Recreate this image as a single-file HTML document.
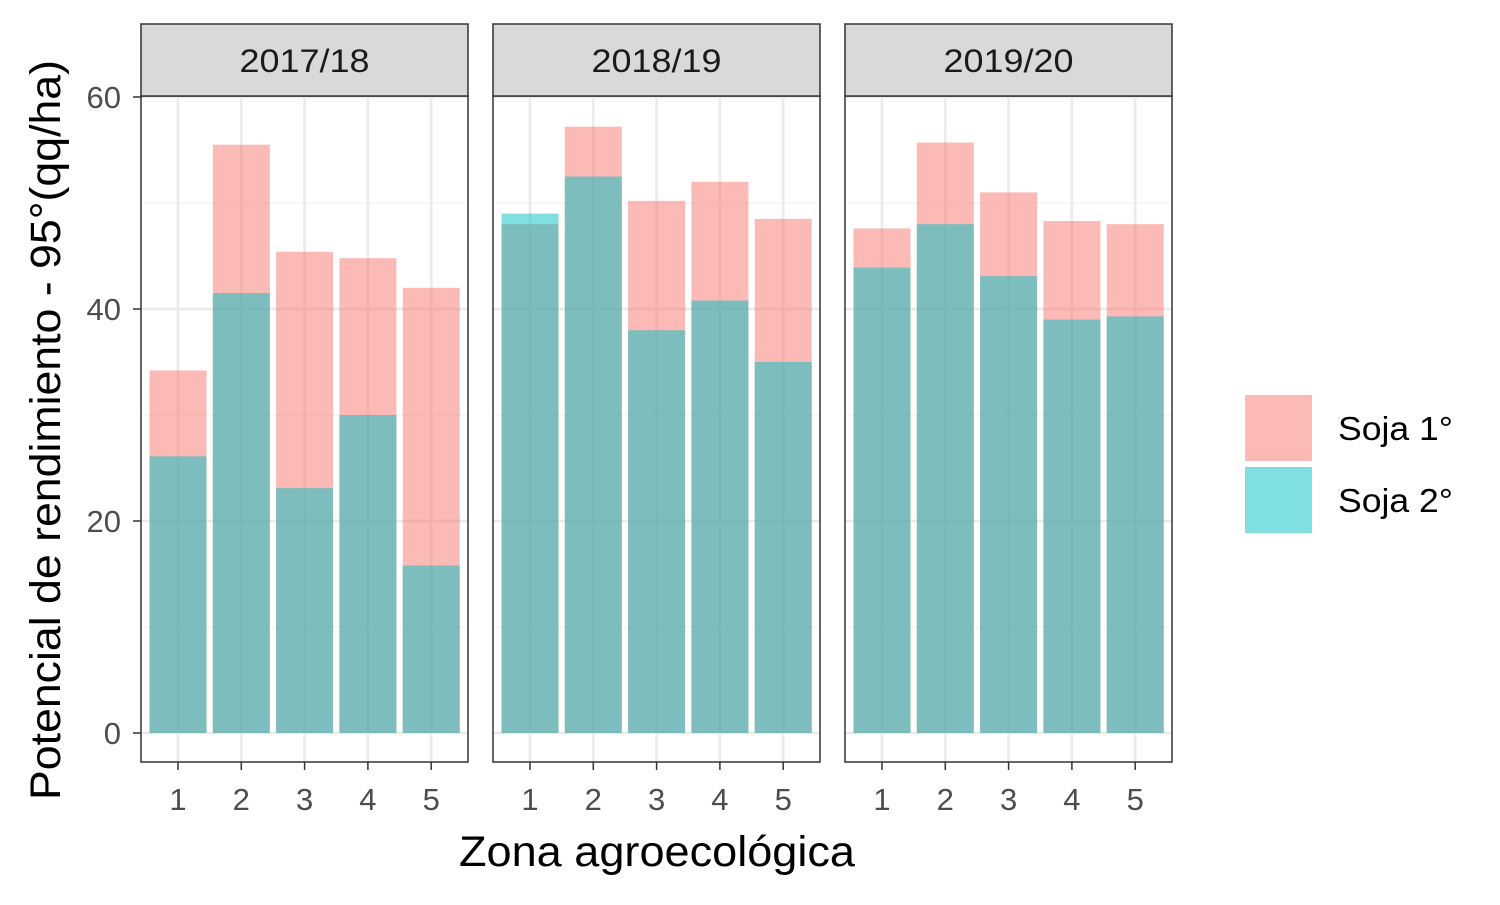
<!DOCTYPE html>
<html><head><meta charset="utf-8"><style>body{margin:0;background:#fff}svg{font-family:"Liberation Sans",Arial,sans-serif}</style></head>
<body>
<svg id="c" width="1500" height="900" xmlns="http://www.w3.org/2000/svg"></svg>
<script>
const panels = ["2017/18","2018/19","2019/20"];
const zones = [1,2,3,4,5];
const soja1 = [[34.2,55.5,45.4,44.8,42.0],[48.0,57.2,50.2,52.0,48.5],[47.6,55.7,51.0,48.3,48.0]];
const soja2 = [[26.1,41.5,23.1,30.0,15.8],[49.0,52.5,38.0,40.8,35.0],[43.9,48.0,43.1,39.0,39.3]];
const yTicks = [0,20,40,60];
const yMinor = [10,30,50];
const seriesNames = ["Soja 1°","Soja 2°"];

const svg = document.getElementById('c');
const NS = "http://www.w3.org/2000/svg";
function mk(t, a, txt){const e=document.createElementNS(NS,t);for(const k in a)e.setAttribute(k,a[k]);if(txt!==undefined)e.textContent=txt;svg.appendChild(e);return e;}
const panelX=[141,493,845], pw=327, plotTop=96, plotBot=762;
const y = v => 733 - v*(733-97)/60;
const x = (p,i) => panelX[p] + 37 + i*63.3;
const bw = 57;
panels.forEach((name,p)=>{
  const x0=panelX[p];
  let r=mk('rect',{x:x0,y:plotTop,width:pw,height:plotBot-plotTop,fill:'#fff'});
  
  yMinor.forEach(v=>{let l=mk('line',{x1:x0,x2:x0+pw,y1:y(v),y2:y(v),stroke:'#f2f2f2','stroke-width':1.3});
    });
  yTicks.forEach(v=>{let l=mk('line',{x1:x0,x2:x0+pw,y1:y(v),y2:y(v),stroke:'#ebebeb','stroke-width':2.7});
    });
  zones.forEach((z,i)=>{let l=mk('line',{x1:x(p,i),x2:x(p,i),y1:plotTop,y2:plotBot,stroke:'#ebebeb','stroke-width':2.7});
    });
  zones.forEach((z,i)=>{
    let b=mk('rect',{x:x(p,i)-bw/2,y:y(soja1[p][i]),width:bw,height:y(0)-y(soja1[p][i]),fill:'#F8766D','fill-opacity':0.5});
    
  });
  zones.forEach((z,i)=>{
    let b=mk('rect',{x:x(p,i)-bw/2,y:y(soja2[p][i]),width:bw,height:y(0)-y(soja2[p][i]),fill:'#00BFC4','fill-opacity':0.5});
    
  });
  let br=mk('rect',{x:x0,y:plotTop,width:pw,height:plotBot-plotTop,fill:'none',stroke:'#333','stroke-width':1.5});
  
  let st=mk('rect',{x:x0,y:24,width:pw,height:72,fill:'#d9d9d9',stroke:'#333','stroke-width':1.5});
  
  let stt=mk('text',{x:x0+pw/2,y:72,'text-anchor':'middle','font-size':32,fill:'#1a1a1a',textLength:130,lengthAdjust:'spacingAndGlyphs'},name);
  
  zones.forEach((z,i)=>{
    let t=mk('line',{x1:x(p,i),x2:x(p,i),y1:plotBot,y2:plotBot+8,stroke:'#333','stroke-width':1.5});
    
    let tl=mk('text',{x:x(p,i),y:810,'text-anchor':'middle','font-size':31,fill:'#4d4d4d'},z);
    
  });
});
yTicks.forEach(v=>{
  let t=mk('line',{x1:133,x2:141,y1:y(v),y2:y(v),stroke:'#333','stroke-width':1.5});
  
  let tl=mk('text',{x:121,y:y(v)+11,'text-anchor':'end','font-size':31,fill:'#4d4d4d'},v);
  
});
let xt=mk('text',{x:657,y:866,'text-anchor':'middle','font-size':43,fill:'#000',textLength:396,lengthAdjust:'spacingAndGlyphs'},'Zona agroecológica');

let yt=mk('text',{x:0,y:0,transform:'translate(60,430) rotate(-90)','text-anchor':'middle','font-size':43,fill:'#000',textLength:740,lengthAdjust:'spacingAndGlyphs'},'Potencial de rendimiento - 95°(qq/ha)');

const legCols=['#F8766D','#00BFC4'];
seriesNames.forEach((n,i)=>{
  let k=mk('rect',{x:1245,y:395+i*72,width:67,height:66,fill:legCols[i],'fill-opacity':0.5});
  
  let t=mk('text',{x:1338,y:440+i*72,'font-size':33,fill:'#000',textLength:115,lengthAdjust:'spacingAndGlyphs'},n);
  
});
</script>
</body></html>
